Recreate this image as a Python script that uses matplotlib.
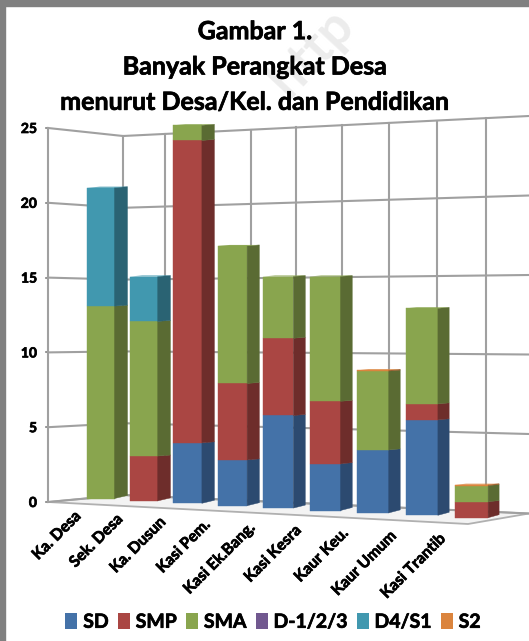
import numpy as np
import matplotlib
matplotlib.use("Agg")
import matplotlib.pyplot as plt
import matplotlib.patheffects as pe
from matplotlib.patches import Polygon, Patch, Rectangle

plt.rcParams['font.family'] = ['Lato', 'DejaVu Sans']

categories = ['Ka. Desa', 'Sek. Desa', 'Ka. Dusun', 'Kasi Pem.', 'Kasi Ek.Bang.',
              'Kasi Kesra', 'Kaur Keu.', 'Kaur Umum', 'Kasi Trantib']
series_names = ['SD', 'SMP', 'SMA', 'D-1/2/3', 'D4/S1', 'S2']
sd = [0, 0, 4, 3, 6, 3, 4, 6, 0]
smp = [0, 3, 20, 5, 5, 4, 0, 1, 1]
sma = [13, 9, 1, 9, 4, 8, 5, 6, 1]
d123 = [0, 0, 0, 0, 0, 0, 0, 0, 0]
d4s1 = [8, 3, 0, 0, 0, 0, 0, 0, 0]
s2 = [0, 0, 0, 0, 0, 0, 0.05, 0, 0.05]
y_ticks = [0, 5, 10, 15, 20, 25]

front_cols = ['#4472a8', '#aa4643', '#89a54e', '#71588f', '#4198af', '#db843d']
side_cols = ['#2c4a70', '#6e2d2b', '#5a6b33', '#4a3a5f', '#2a6373', '#9a5c2a']
GRID = '#a0a0a0'
THICK = [pe.withStroke(linewidth=0.5, foreground='black')]


# perspective of the chart box, everything in picture pixels
def bar_x(i):
    return 87 + 42 * i + 0.5 * i ** 2

def bar_w(i):
    return 27.5 + 0.7 * i

def bar_dx(i):
    return 13 - 0.25 * i

def bar_y(i, v):
    return 498.5 + 2.4 * i - (14.8 + 0.16 * i) * v

def bar_dy(v):
    return -3 if v == 0 else -1

def wall_left(v):
    return 502 - 14.96 * v

def wall_corner(v):
    return 495 - 14.36 * v

def wall_right(v):
    return 513.5 - 15.9 * v

def wall_back(x, v):
    return wall_corner(v) + (wall_right(v) - wall_corner(v)) * (x - 123) / (529 - 123)


fig = plt.figure(figsize=(5.29, 6.41), dpi=100)
ax = fig.add_axes([0, 0, 1, 1])
ax.set_xlim(0, 529)
ax.set_ylim(641, 0)
ax.axis('off')

# grey frame of the screenshot
ax.add_patch(Rectangle((0, 0), 5, 641, color='#808080', zorder=0))
ax.add_patch(Rectangle((0, 0), 529, 6, color='#808080', zorder=0))

# floor
ax.add_patch(Polygon([(48, 502), (123, 495), (529, 513.5), (468, 524)],
                     facecolor='#f3f3f3', edgecolor='#b0b0b0', lw=1.3, zorder=1))

# walls
for v in y_ticks:
    ax.plot([46, 48], [wall_left(v)] * 2, color='#808080', lw=1.2, zorder=2)
    ax.plot([48, 123, 529], [wall_left(v), wall_corner(v), wall_right(v)],
            color=GRID, lw=1.5, zorder=2)
    ax.text(37, wall_left(v) + 1, str(v), ha='right', va='center',
            fontsize=10, fontweight='bold', color='black', path_effects=THICK)

ax.plot([48, 48], [wall_left(25), wall_left(0)], color=GRID, lw=1.5, zorder=2)
for k in range(9):
    gx = 123 + 41 * k + 0.55 * k ** 2
    ax.plot([gx, gx], [wall_back(gx, 25), wall_back(gx, 0)], color=GRID, lw=1.5, zorder=2)

# stacked bars
stack = [sd, smp, sma, d123, d4s1, s2]
for i in range(len(categories)):
    x0 = bar_x(i)
    x1 = x0 + bar_w(i)
    x2 = x1 + bar_dx(i)
    base = 0
    last = 0
    for s in range(len(stack)):
        val = stack[s][i]
        if val == 0:
            continue
        top = base + val
        yb = bar_y(i, base)
        yt = bar_y(i, top)
        ax.add_patch(Polygon([(x0, yb), (x1, yb), (x1, yt), (x0, yt)],
                             facecolor=front_cols[s], edgecolor=front_cols[s], lw=0.3, zorder=3))
        ax.add_patch(Polygon([(x1, yb), (x2, yb + bar_dy(base)), (x2, yt + bar_dy(top)), (x1, yt)],
                             facecolor=side_cols[s], edgecolor=side_cols[s], lw=0.3, zorder=3))
        base = top
        last = s
    # top face
    ytop = bar_y(i, base)
    ax.add_patch(Polygon([(x0, ytop), (x1, ytop), (x2, ytop - 1), (x0 + bar_dx(i), ytop - 1)],
                         facecolor=front_cols[last], lw=0, zorder=3))

# category labels
for i, name in enumerate(categories):
    ax.text(bar_x(i) - 13 - 0.4 * i, 509 + 2.8 * i, name, rotation=45, ha='right', va='top',
            rotation_mode='anchor', fontsize=11.3, fontweight='bold', color='black',
            path_effects=THICK)

ax.text(255, 67, 'Gambar 1.\nBanyak Perangkat Desa\nmenurut Desa/Kel. dan Pendidikan',
        ha='center', va='center', fontsize=18, fontweight='bold', color='black',
        linespacing=1.65, path_effects=THICK)

# watermark
ax.text(312, 52, 'http', rotation=47, ha='center', va='center', fontsize=38,
        fontweight='bold', color='#e0e0e0', alpha=0.6, zorder=1)

handles = [Patch(facecolor=c, edgecolor='none') for c in front_cols]
leg = ax.legend(handles, series_names, ncol=6, loc='center', bbox_to_anchor=(273 / 529, 1 - 622 / 641),
                frameon=False, handlelength=0.62, handleheight=0.85, handletextpad=0.3,
                columnspacing=0.46, prop={'size': 14, 'weight': 'bold'}, borderpad=0, borderaxespad=0)
for t in leg.get_texts():
    t.set_path_effects(THICK)

fig.savefig('out.png', dpi=100)
